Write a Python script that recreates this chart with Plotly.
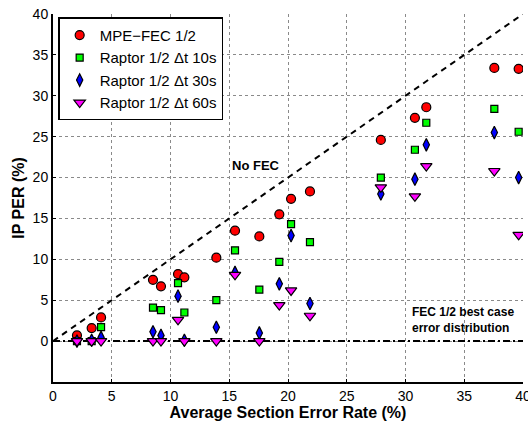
import plotly.graph_objects as go

x_err = [2.04, 3.29, 4.09, 8.51, 9.19, 10.64, 11.18, 13.9, 15.49, 17.56,
         19.26, 20.26, 21.87, 27.9, 30.8, 31.77, 37.56, 39.63]

mpe_fec = [0.7, 1.6, 2.9, 7.5, 6.7, 8.2, 7.8, 10.2, 13.5, 12.8,
           15.5, 17.4, 18.3, 24.6, 27.3, 28.6, 33.4, 33.3]
raptor_10 = [0.0, 0.0, 1.7, 4.1, 3.8, 7.1, 3.5, 5.0, 11.1, 6.3,
             9.7, 14.3, 12.1, 20.0, 23.4, 26.7, 28.4, 25.6]
raptor_30 = [0.0, 0.1, 0.45, 1.15, 0.7, 5.5, 0.1, 1.7, 8.4, 1.0,
             7.0, 12.9, 4.6, 18.0, 19.8, 24.0, 25.5, 20.0]
raptor_60 = [0.0, 0.0, 0.0, 0.0, 0.0, 2.6, 0.0, 0.0, 8.1, 0.0,
             4.4, 6.2, 3.1, 18.8, 17.7, 21.4, 20.8, 13.0]

no_fec_x = [0, 40]
no_fec_y = [0, 40]
best_x = [0, 40]
best_y = [0, 0]

x_ticks = [0, 5, 10, 15, 20, 25, 30, 35, 40]
y_ticks = [0, 5, 10, 15, 20, 25, 30, 35, 40]

series = [
    ("MPE\u2212FEC 1/2", mpe_fec, "circle", 9, "#ff0000"),
    ("Raptor 1/2 \u0394t 10s", raptor_10, "square", 7, "#00ff00"),
    ("Raptor 1/2 \u0394t 30s", raptor_30, "diamond-tall", 9, "#0000ff"),
    ("Raptor 1/2 \u0394t 60s", raptor_60, "triangle-down", 10, "#ff00ff"),
]

FONT = "Liberation Sans, Arial"

fig = go.Figure()
fig.add_trace(go.Scatter(x=no_fec_x, y=no_fec_y, mode="lines",
                         line=dict(color="black", width=2, dash="6px,5px"),
                         showlegend=False, hoverinfo="skip"))
fig.add_trace(go.Scatter(x=best_x, y=best_y, mode="lines",
                         line=dict(color="black", width=2, dash="7px,3px,2px,3px"),
                         showlegend=False, hoverinfo="skip"))

for name, vals, sym, sz, col in series:
    fig.add_trace(go.Scatter(x=x_err, y=vals, mode="markers", name=name,
                             marker=dict(symbol=sym, size=sz, color=col,
                                         line=dict(color="black", width=1.2))))

fig.add_annotation(x=15.1, y=21.5, text="<b>No FEC</b>", showarrow=False,
                   xanchor="left", yanchor="middle",
                   font=dict(family=FONT, size=13, color="black"))
fig.add_annotation(x=30.35, y=2.6, text="<b>FEC 1/2 best case<br>error distribution</b>",
                   showarrow=False, xanchor="left", yanchor="middle", align="left",
                   font=dict(family=FONT, size=12, color="black"))

axis_common = dict(showgrid=True, gridcolor="#8a8a8a", griddash="dot", gridwidth=1,
                   zeroline=False, showline=True, linecolor="black", linewidth=2,
                   ticks="inside", ticklen=3, tickcolor="black",
                   ticklabeloverflow="allow", automargin=False,
                   tickfont=dict(family=FONT, size=14, color="black"))

fig.update_xaxes(range=[0, 40], tickvals=x_ticks,
                 title=dict(text="<b>Average Section Error Rate (%)</b>", standoff=0,
                            font=dict(family=FONT, size=16, color="black")),
                 **axis_common)
fig.update_yaxes(range=[-5, 40], tickvals=y_ticks,
                 title=dict(text="<b>IP PER (%)</b>", standoff=4,
                            font=dict(family=FONT, size=16, color="black")),
                 **axis_common)

fig.update_layout(
    width=528, height=422,
    margin=dict(l=53, r=5, t=14, b=40),
    plot_bgcolor="white", paper_bgcolor="white",
    legend=dict(x=0.011, y=0.991, xanchor="left", yanchor="top",
                bgcolor="white", bordercolor="black", borderwidth=1.5,
                font=dict(family=FONT, size=15, color="black"),
                itemwidth=30, tracegroupgap=0),
)

fig.write_html("out.html")
